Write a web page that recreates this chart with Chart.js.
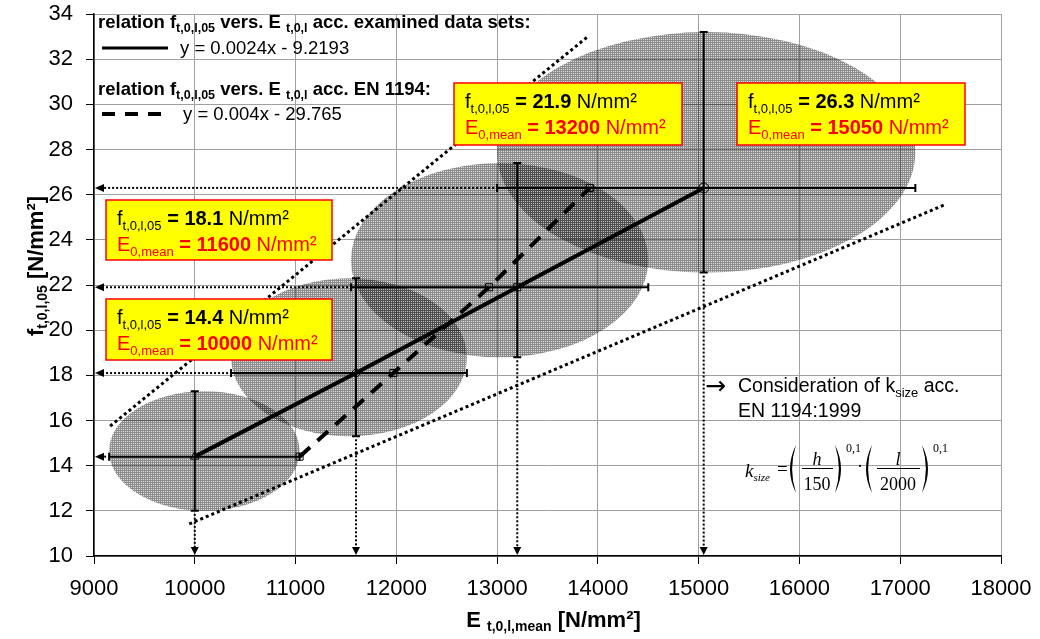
<!DOCTYPE html>
<html>
<head>
<meta charset="utf-8">
<script src="https://cdn.jsdelivr.net/npm/chart.js@4.4.1/dist/chart.umd.min.js"></script>
<style>
  html, body { margin: 0; padding: 0; background: #fff; }
  #wrap { width: 1040px; height: 639px; position: relative; }
</style>
</head>
<body>
<div id="wrap"><canvas id="c" width="1040" height="639"></canvas></div>
<script>
const SANS = '"Liberation Sans", Arial, Helvetica, sans-serif';
const SERIF = '"Liberation Serif", "Times New Roman", serif';

// mean modulus of elasticity per sample group [N/mm²]
const E_mean = [10000, 11600, 13200, 15050];
// characteristic tensile strength per group [N/mm²]
const f_05 = [14.4, 18.1, 21.9, 26.3];
// scatter range of E (horizontal bars)
const E_low = [9150, 10360, 11550, 13000];
const E_high = [11040, 12700, 14500, 17150];
// scatter range of f (vertical bars)
const f_low = [12.0, 15.3, 18.8, 22.55];
const f_high = [17.3, 22.3, 27.4, 33.2];
// E according to the EN 1194 relation for the same strengths
const E_en1194 = [11040, 11970, 12920, 13920];
// dotted envelope lines
const upperE = [9160, 13900];
const upperF = [15.75, 33.0];
const lowerE = [9945, 17440];
const lowerF = [11.42, 25.55];
// marker shape per sample group
const groupMarkers = ['triangle', 'rectRot', 'rect', 'circle'];
// axis ranges
const xMin = 9000, xMax = 18000, xStep = 1000;
const yMin = 10, yMax = 34, yStep = 2;
// regression labels
const regExamined = 'y = 0.0024x - 9.2193';
const regEN1194 = 'y = 0.004x - 29.765';

const pts = (xs, ys) => xs.map((v, i) => ({ x: v, y: ys[i] }));

// fine cross-hatch used for the scatter ellipses
function hatchPattern(ctx) {
  const c = document.createElement('canvas');
  c.width = 2; c.height = 2;
  const g = c.getContext('2d');
  const img = g.createImageData(2, 2);
  const alpha = [0.45, 0.45, 0.45, 0.13];
  for (let k = 0; k < 4; k++) {
    img.data[k * 4] = 0; img.data[k * 4 + 1] = 0; img.data[k * 4 + 2] = 0;
    img.data[k * 4 + 3] = Math.round(alpha[k] * 255);
  }
  g.putImageData(img, 0, 0);
  return ctx.createPattern(c, 'repeat');
}

// draws a run of text pieces (main text, subscripts) and returns the end x
function rich(ctx, x, y, parts, measureOnly) {
  let cx = x;
  for (const p of parts) {
    ctx.font = p.f;
    if (!measureOnly) {
      ctx.fillStyle = p.c || '#000';
      ctx.fillText(p.t, cx, y + (p.dy || 0));
    }
    cx += ctx.measureText(p.t).width;
  }
  return cx;
}

const B = s => 'bold ' + s + 'px ' + SANS;
const N = s => s + 'px ' + SANS;

const boxes = [
  { i: 0, x: 106, y: 299, w: 226, h: 61 },
  { i: 1, x: 106, y: 200, w: 226, h: 60 },
  { i: 2, x: 454, y: 83, w: 228, h: 62 },
  { i: 3, x: 737, y: 83, w: 228, h: 62 }
];

const overlay = {
  id: 'overlay',
  beforeDatasetsDraw(chart) {
    const { ctx, scales: { x, y } } = chart;
    const X = v => x.getPixelForValue(v);
    const Y = v => y.getPixelForValue(v);
    ctx.save();

    // scatter ellipses spanned by the E and f ranges
    const pat = hatchPattern(ctx);
    for (let i = 0; i < E_mean.length; i++) {
      const cx = (X(E_low[i]) + X(E_high[i])) / 2;
      const cy = (Y(f_low[i]) + Y(f_high[i])) / 2;
      const rx = (X(E_high[i]) - X(E_low[i])) / 2;
      const ry = (Y(f_low[i]) - Y(f_high[i])) / 2;
      ctx.beginPath();
      ctx.ellipse(cx, cy, rx, ry, 0, 0, Math.PI * 2);
      ctx.fillStyle = pat;
      ctx.fill();
    }

    // dotted projections onto the axes
    ctx.strokeStyle = '#000';
    ctx.fillStyle = '#000';
    ctx.lineWidth = 2;
    ctx.setLineDash([2, 2]);
    for (let i = 0; i < E_mean.length; i++) {
      const py = Y(f_05[i]);
      ctx.beginPath();
      ctx.moveTo(X(E_low[i]) - 3, py);
      ctx.lineTo(x.left + 8, py);
      ctx.stroke();
      const px = X(E_mean[i]);
      ctx.beginPath();
      ctx.moveTo(px, Y(f_low[i]) + 3);
      ctx.lineTo(px, y.bottom - 7);
      ctx.stroke();
    }
    ctx.setLineDash([]);
    for (let i = 0; i < E_mean.length; i++) {
      const py = Y(f_05[i]);
      ctx.beginPath();
      ctx.moveTo(x.left + 1, py);
      ctx.lineTo(x.left + 10, py - 4);
      ctx.lineTo(x.left + 10, py + 4);
      ctx.closePath();
      ctx.fill();
      const px = X(E_mean[i]);
      ctx.beginPath();
      ctx.moveTo(px, y.bottom - 1);
      ctx.lineTo(px - 4, y.bottom - 9);
      ctx.lineTo(px + 4, y.bottom - 9);
      ctx.closePath();
      ctx.fill();
    }

    // range bars with end caps
    ctx.lineWidth = 2;
    for (let i = 0; i < E_mean.length; i++) {
      const px = X(E_mean[i]), py = Y(f_05[i]);
      const x0 = X(E_low[i]), x1 = X(E_high[i]);
      const y0 = Y(f_low[i]), y1 = Y(f_high[i]);
      ctx.beginPath();
      ctx.moveTo(x0, py); ctx.lineTo(x1, py);
      ctx.moveTo(x0, py - 4); ctx.lineTo(x0, py + 4);
      ctx.moveTo(x1, py - 4); ctx.lineTo(x1, py + 4);
      ctx.moveTo(px, y0); ctx.lineTo(px, y1);
      ctx.moveTo(px - 4, y0); ctx.lineTo(px + 4, y0);
      ctx.moveTo(px - 4, y1); ctx.lineTo(px + 4, y1);
      ctx.stroke();
    }
    ctx.restore();
  },
  afterDraw(chart) {
    const { ctx, chartArea: a } = chart;
    ctx.save();
    ctx.textAlign = 'left';
    ctx.textBaseline = 'alphabetic';

    // regression legend
    const LB = B(18.5), LS = 'bold 12.5px ' + SANS, LN = N(18.5);
    rich(ctx, 98, 28, [
      { t: 'relation f', f: LB }, { t: 't,0,l,05', f: LS, dy: 4 },
      { t: ' vers. E ', f: LB }, { t: 't,0,l', f: LS, dy: 4 },
      { t: ' acc. examined data sets:', f: LB }
    ]);
    ctx.strokeStyle = '#000';
    ctx.lineWidth = 3;
    ctx.beginPath(); ctx.moveTo(102, 48); ctx.lineTo(168, 48); ctx.stroke();
    rich(ctx, 180, 54, [{ t: regExamined, f: LN }]);
    rich(ctx, 98, 95, [
      { t: 'relation f', f: LB }, { t: 't,0,l,05', f: LS, dy: 4 },
      { t: ' vers. E ', f: LB }, { t: 't,0,l', f: LS, dy: 4 },
      { t: ' acc. EN 1194:', f: LB }
    ]);
    ctx.lineWidth = 4;
    ctx.setLineDash([13, 10]);
    ctx.beginPath(); ctx.moveTo(102, 114); ctx.lineTo(162, 114); ctx.stroke();
    ctx.setLineDash([]);
    rich(ctx, 183, 120, [{ t: regEN1194, f: LN }]);

    // value boxes
    for (const b of boxes) {
      ctx.fillStyle = '#ffff00';
      ctx.fillRect(b.x, b.y, b.w, b.h);
      ctx.strokeStyle = '#ff0000';
      ctx.lineWidth = 1.5;
      ctx.strokeRect(b.x, b.y, b.w, b.h);
      const tx = b.x + 11;
      rich(ctx, tx, b.y + 25, [
        { t: 'f', f: N(20) }, { t: 't,0,l,05', f: N(13), dy: 5 },
        { t: ' = ' + f_05[b.i].toFixed(1), f: B(20) },
        { t: ' N/mm²', f: N(20) }
      ]);
      rich(ctx, tx, b.y + 51, [
        { t: 'E', f: N(20), c: '#ff0000' }, { t: '0,mean', f: N(13), dy: 5, c: '#ff0000' },
        { t: ' = ' + E_mean[b.i], f: B(20), c: '#ff0000' },
        { t: ' N/mm²', f: N(20), c: '#ff0000' }
      ]);
    }

    // note on the size factor
    rich(ctx, 705, 394, [{ t: '\u2192', f: '25px "DejaVu Sans", ' + SANS }]);
    rich(ctx, 738, 392, [
      { t: 'Consideration of k', f: N(19.5) }, { t: 'size', f: N(13), dy: 5 },
      { t: ' acc.', f: N(19.5) }
    ]);
    rich(ctx, 738, 417, [{ t: 'EN 1194:1999', f: N(19.5) }]);

    // k_size formula
    const IT = s => 'italic ' + s + 'px ' + SERIF;
    const RM = s => s + 'px ' + SERIF;
    rich(ctx, 745, 477, [{ t: 'k', f: IT(19) }, { t: 'size', f: IT(11), dy: 4 }]);
    rich(ctx, 777, 475, [{ t: '=', f: RM(19) }]);
    // tall thin brackets around the fractions
    const paren = (left, x0) => {
      const top = 445, bot = 493, mid = 469, w = 9;
      ctx.fillStyle = '#000';
      ctx.beginPath();
      if (left) {
        ctx.moveTo(x0 + w, top);
        ctx.quadraticCurveTo(x0 - 3, mid, x0 + w, bot);
        ctx.quadraticCurveTo(x0 + 1.2, mid, x0 + w, top);
      } else {
        ctx.moveTo(x0, top);
        ctx.quadraticCurveTo(x0 + w + 3, mid, x0, bot);
        ctx.quadraticCurveTo(x0 + w - 1.2, mid, x0, top);
      }
      ctx.fill();
    };
    const frac = (num, den, cx, x0, x1) => {
      ctx.textAlign = 'center';
      ctx.fillStyle = '#000';
      ctx.font = IT(18);
      ctx.fillText(num, cx, 465);
      ctx.font = RM(18);
      ctx.fillText(den, cx, 490);
      ctx.textAlign = 'left';
      ctx.lineWidth = 1;
      ctx.strokeStyle = '#000';
      ctx.beginPath(); ctx.moveTo(x0, 468.5); ctx.lineTo(x1, 468.5); ctx.stroke();
    };
    paren(true, 787);
    frac('h', '150', 817, 802, 833);
    paren(false, 835);
    rich(ctx, 846, 452, [{ t: '0,1', f: RM(12) }]);
    rich(ctx, 857, 472, [{ t: '\u00b7', f: RM(18) }]);
    paren(true, 863);
    frac('l', '2000', 898, 877, 920);
    paren(false, 922);
    rich(ctx, 933, 452, [{ t: '0,1', f: RM(12) }]);

    // axis titles
    const xt = [
      { t: 'E ', f: B(22) }, { t: 't,0,l,mean', f: 'bold 14px ' + SANS, dy: 4 },
      { t: ' [N/mm²]', f: B(22) }
    ];
    const xw = rich(ctx, 0, 0, xt, true);
    rich(ctx, (a.left + a.right) / 2 + 6 - xw / 2, 627, xt);

    const yt = [
      { t: 'f', f: B(22) }, { t: 't,0,l,05', f: 'bold 14px ' + SANS, dy: 4 },
      { t: ' [N/mm²]', f: B(22) }
    ];
    const yw = rich(ctx, 0, 0, yt, true);
    ctx.translate(35, 266);
    ctx.rotate(-Math.PI / 2);
    rich(ctx, -yw / 2, 8, yt);
    ctx.restore();
  }
};

new Chart(document.getElementById('c'), {
  type: 'scatter',
  data: {
    datasets: [
      {
        label: 'examined data sets',
        data: pts(E_mean, f_05),
        showLine: true,
        borderColor: '#000',
        borderWidth: 4,
        pointStyle: groupMarkers,
        pointRadius: 5,
        pointBackgroundColor: 'rgba(0,0,0,0)',
        pointBorderColor: '#000',
        pointBorderWidth: 1,
        tension: 0
      },
      {
        label: 'EN 1194',
        data: pts(E_en1194, f_05),
        showLine: true,
        borderColor: '#000',
        borderWidth: 4,
        borderDash: [14, 10],
        pointStyle: 'rect',
        pointRadius: 5,
        pointBackgroundColor: 'rgba(0,0,0,0)',
        pointBorderColor: '#000',
        pointBorderWidth: 1,
        tension: 0
      },
      {
        label: 'upper envelope',
        data: pts(upperE, upperF),
        showLine: true,
        borderColor: '#000',
        borderWidth: 3,
        borderDash: [3, 3],
        pointRadius: 0
      },
      {
        label: 'lower envelope',
        data: pts(lowerE, lowerF),
        showLine: true,
        borderColor: '#000',
        borderWidth: 3,
        borderDash: [3, 3],
        pointRadius: 0
      }
    ]
  },
  options: {
    responsive: false,
    animation: false,
    devicePixelRatio: 1,
    layout: { padding: { left: 0, right: 39, top: 14, bottom: 0 } },
    plugins: { legend: { display: false }, tooltip: { enabled: false } },
    scales: {
      x: {
        type: 'linear',
        min: xMin, max: xMax,
        ticks: {
          stepSize: xStep, autoSkip: false, maxRotation: 0,
          font: { family: SANS, size: 22 }, color: '#000', padding: 12,
          callback: v => String(v)
        },
        grid: { color: '#a0a0a0', lineWidth: 1, tickLength: 8, tickColor: '#000' },
        border: { color: '#000', width: 1.5 },
        afterFit(s) { s.height = 83; s.paddingLeft = 0; s.paddingRight = 0; }
      },
      y: {
        type: 'linear',
        min: yMin, max: yMax,
        ticks: {
          stepSize: yStep, autoSkip: false,
          font: { family: SANS, size: 22 }, color: '#000', padding: 13,
          callback: v => String(v)
        },
        grid: { color: '#a0a0a0', lineWidth: 1, tickLength: 8, tickColor: '#000' },
        border: { color: '#000', width: 1.5 },
        afterFit(s) { s.width = 94; s.paddingTop = 0; s.paddingBottom = 0; }
      }
    }
  },
  plugins: [overlay]
});
</script>
</body>
</html>
